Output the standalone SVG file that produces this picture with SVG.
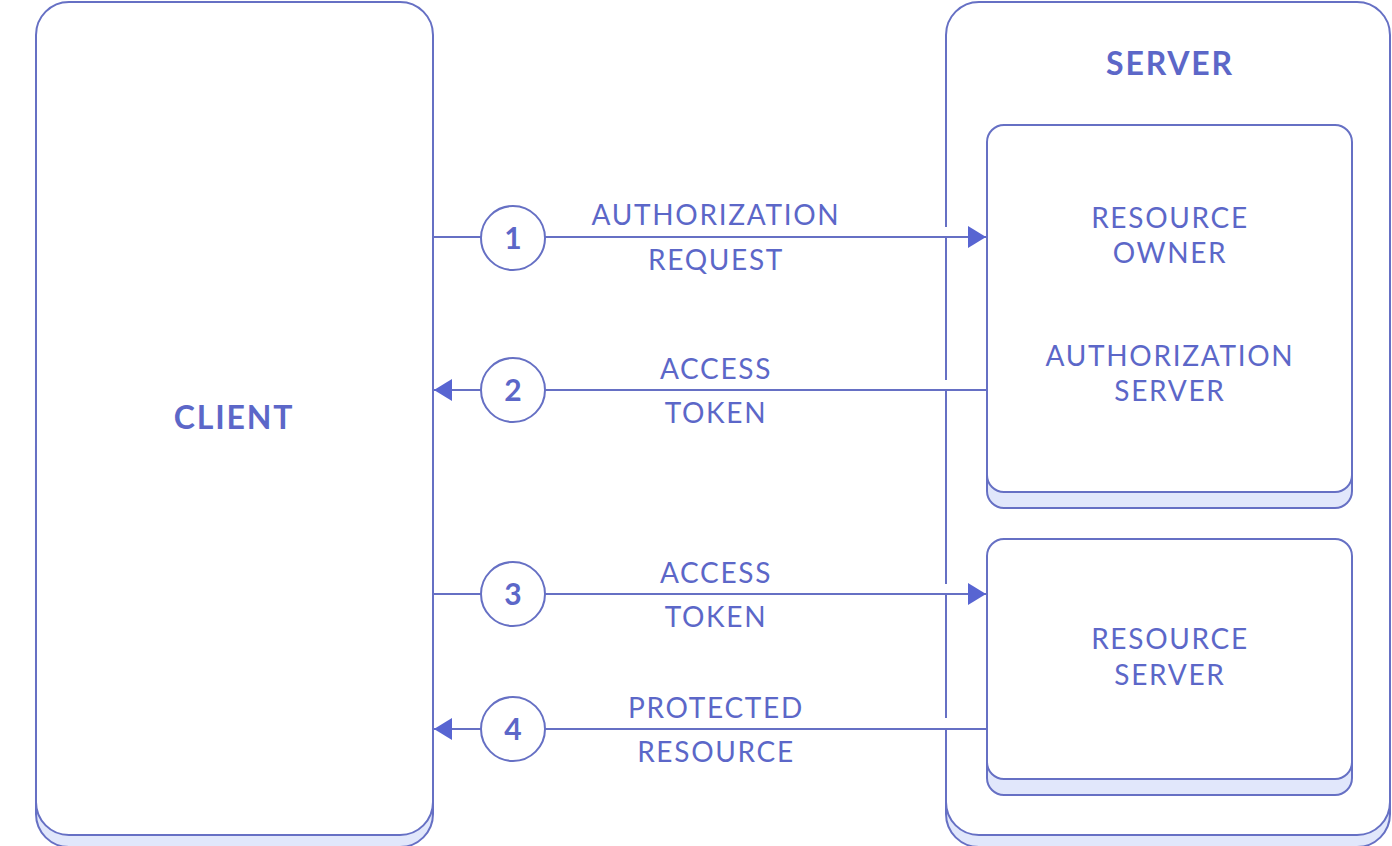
<svg xmlns="http://www.w3.org/2000/svg" width="1392" height="846" viewBox="0 0 1392 846">
  <defs>
    <style>
      .box{fill:#ffffff;stroke:#6670c4;stroke-width:2}
      .shadow{fill:#e1e7fb;stroke:#6670c4;stroke-width:2}
      .line{stroke:#6670c4;stroke-width:2;fill:none}
      .circ{fill:#ffffff;stroke:#6670c4;stroke-width:2}
      .lbl{font-family:Lato,"Liberation Sans",sans-serif;font-size:28px;fill:#5c67c8;text-anchor:middle;letter-spacing:1.7px}
      .title{font-family:Lato,"Liberation Sans",sans-serif;font-size:32px;font-weight:bold;fill:#5c67c8;text-anchor:middle;letter-spacing:1.8px}
      .num{font-family:Lato,"Liberation Sans",sans-serif;font-size:30px;font-weight:bold;fill:#5c67c8;text-anchor:middle}
      .gap{fill:#ffffff}
    </style>
    <marker id="arr" viewBox="0 0 18 22" refX="18" refY="11" markerWidth="18" markerHeight="22" markerUnits="userSpaceOnUse" orient="auto">
      <path d="M0,0 L18,11 L0,22 Z" fill="#5865d2"/>
    </marker>
  </defs>
  <rect width="1392" height="846" fill="#ffffff"/>

  <g id="client">
    <rect class="shadow" x="36" y="14" width="397" height="833" rx="33"/>
    <rect class="box" x="36" y="2" width="397" height="833" rx="33"/>
    <text class="title" x="234" y="429">CLIENT</text>
  </g>

  <g id="server">
    <rect class="shadow" x="946" y="14" width="444" height="833" rx="33"/>
    <rect class="box" x="946" y="2" width="444" height="833" rx="33"/>
    <rect class="gap" x="943" y="227" width="6" height="9"/>
    <rect class="gap" x="943" y="380" width="6" height="9"/>
    <rect class="gap" x="943" y="584" width="6" height="9"/>
    <rect class="gap" x="943" y="718" width="6" height="10"/>
    <text class="title" x="1170" y="75">SERVER</text>
  </g>

  <g id="auth-server">
    <rect class="shadow" x="987" y="141" width="365" height="367" rx="17"/>
    <rect class="box" x="987" y="125" width="365" height="367" rx="17"/>
    <text class="lbl" x="1170" y="228">RESOURCE</text>
    <text class="lbl" x="1170" y="263">OWNER</text>
    <text class="lbl" x="1170" y="366">AUTHORIZATION</text>
    <text class="lbl" x="1170" y="401">SERVER</text>
  </g>

  <g id="resource-server">
    <rect class="shadow" x="987" y="555" width="365" height="240" rx="17"/>
    <rect class="box" x="987" y="539" width="365" height="240" rx="17"/>
    <text class="lbl" x="1170" y="649">RESOURCE</text>
    <text class="lbl" x="1170" y="685">SERVER</text>
  </g>

  <g id="connectors">
    <line class="line" x1="433" y1="237" x2="986" y2="237" marker-end="url(#arr)"/>
    <line class="line" x1="987" y1="390" x2="434" y2="390" marker-end="url(#arr)"/>
    <line class="line" x1="433" y1="594" x2="986" y2="594" marker-end="url(#arr)"/>
    <line class="line" x1="987" y1="729" x2="434" y2="729" marker-end="url(#arr)"/>
  </g>

  <g id="step1">
    <circle class="circ" cx="513" cy="238" r="32"/>
    <text class="num" x="513" y="249">1</text>
    <text class="lbl" x="716" y="225">AUTHORIZATION</text>
    <text class="lbl" x="716" y="270">REQUEST</text>
  </g>
  <g id="step2">
    <circle class="circ" cx="513" cy="390" r="32"/>
    <text class="num" x="513" y="401">2</text>
    <text class="lbl" x="716" y="379">ACCESS</text>
    <text class="lbl" x="716" y="423">TOKEN</text>
  </g>
  <g id="step3">
    <circle class="circ" cx="513" cy="594" r="32"/>
    <text class="num" x="513" y="605">3</text>
    <text class="lbl" x="716" y="583">ACCESS</text>
    <text class="lbl" x="716" y="627">TOKEN</text>
  </g>
  <g id="step4">
    <circle class="circ" cx="513" cy="729" r="32"/>
    <text class="num" x="513" y="740">4</text>
    <text class="lbl" x="716" y="718">PROTECTED</text>
    <text class="lbl" x="716" y="762">RESOURCE</text>
  </g>
</svg>
